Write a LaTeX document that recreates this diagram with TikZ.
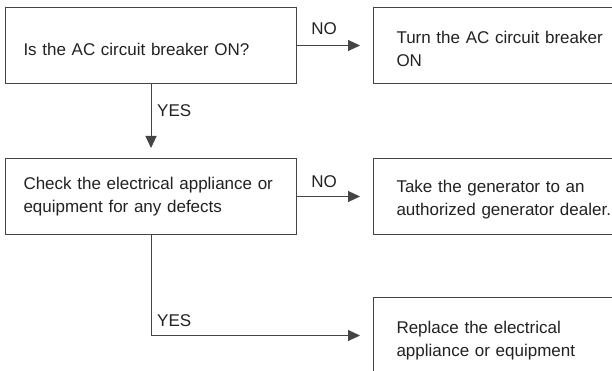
\documentclass[tikz,border=0pt]{standalone}
\usepackage{fontspec}
\setmainfont{Liberation Sans}
\usetikzlibrary{arrows.meta}
\definecolor{linec}{HTML}{444444}
\definecolor{textc}{HTML}{222222}
\begin{document}
\begin{tikzpicture}[x=1pt,y=-1pt,
  box/.style={draw=linec, line width=1pt, rectangle, anchor=north west,
    align=left, minimum height=76pt, inner ysep=0pt, text=textc,
    font=\fontsize{17}{23}\selectfont},
  lbox/.style={box, text width=255pt, inner xsep=18pt},
  rbox/.style={box, text width=230pt, inner xsep=23pt},
  lab/.style={text=textc, inner sep=0pt, font=\fontsize{17}{23}\selectfont},
  arr/.style={draw=linec, line width=1pt, -{Triangle[length=12pt,width=11pt]}}]
\useasboundingbox (0,0) rectangle (612,371);
\clip (0,0) rectangle (612,371);
\fill[white] (0,0) rectangle (612,371);
\node[lbox, text height=20pt] (b1) at (5,7) {Is the AC circuit breaker ON?};
\node[rbox, text height=18.4pt] (b2) at (373,7) {Turn the AC circuit breaker\\ON};
\node[lbox] (b3) at (5,158) {Check the electrical appliance or\\equipment for any defects};
\node[rbox, text height=17.6pt] (b4) at (373,158) {Take the generator to an\\authorized generator dealer.};
\node[rbox, text height=23pt] (b5) at (373,297) {Replace the electrical\\appliance or equipment};
\draw[arr, shorten >=13pt] (b1.east) -- (b2.west);
\draw[arr, shorten >=13pt] (b3.east) -- (b4.west);
\draw[arr, shorten >=10pt] (b1.south) -- (b3.north);
\draw[arr, shorten >=13pt] (b3.south) |- (b5.west);
\node[lab, anchor=base] (no1) at (324,35) {NO};
\node[lab, anchor=base] (no2) at (324,188) {NO};
\node[lab, anchor=base west] (yes1) at (157,117) {YES};
\node[lab, anchor=base west] (yes2) at (157,326) {YES};
\end{tikzpicture}
\end{document}
